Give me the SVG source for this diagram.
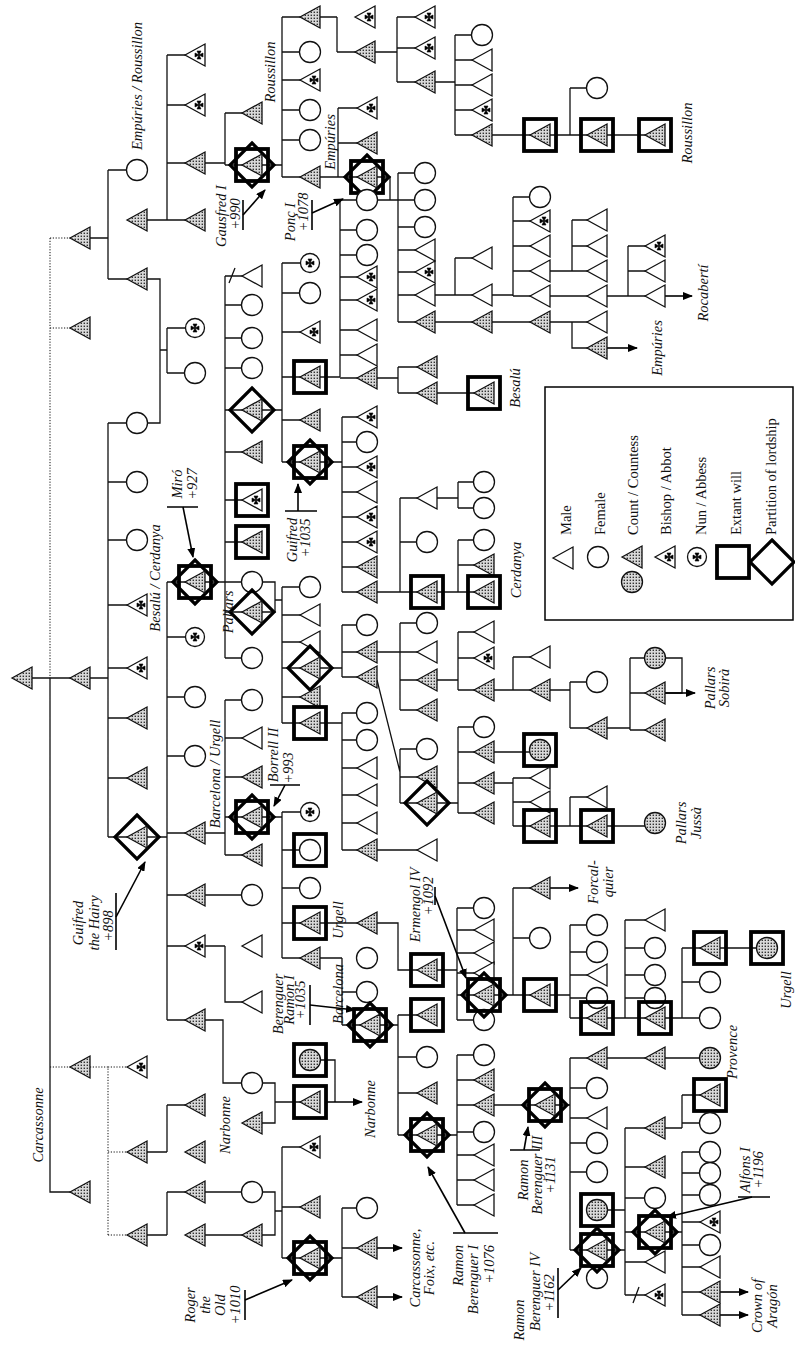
<svg xmlns="http://www.w3.org/2000/svg" xmlns:xlink="http://www.w3.org/1999/xlink" width="795" height="1345" viewBox="0 0 795 1345">
<style>
.ln{fill:none;stroke:#111;stroke-width:1.3}
.dt{fill:none;stroke:#111;stroke-width:1;stroke-dasharray:1.2 1.6}
.pt{fill:none;stroke:#000;stroke-width:1.6}
.ar{fill:none;stroke:#000;stroke-width:1.6;marker-end:url(#ah)}
.t{font-family:"Liberation Serif","Times New Roman",serif;font-style:italic;font-size:14.5px;fill:#111}
.lg{font-family:"Liberation Serif","Times New Roman",serif;font-size:14.5px;fill:#111}
</style>
<defs>
<marker id="ah" markerWidth="10" markerHeight="8" refX="9" refY="4" orient="auto" markerUnits="userSpaceOnUse"><path d="M0,0L10,4L0,8Z" fill="#000"/></marker>
<pattern id="st" width="3" height="3" patternUnits="userSpaceOnUse"><rect width="3" height="3" fill="#d8d8d8"/><rect x="0.6" y="0.6" width="1.4" height="1.4" fill="#333"/></pattern>
<path id="cr" d="M0,0L-2,-4H2ZM0,0L-2,4H2ZM0,0L-4,-2V2ZM0,0L4,-2V2Z" fill="#000" stroke="#000" stroke-width="0.6"/>
<polygon id="M" points="-10,0 10,-11 10,11" fill="#fff" stroke="#111" stroke-width="1.3"/>
<polygon id="C" points="-10,0 10,-11 10,11" fill="url(#st)" stroke="#111" stroke-width="1.3"/>
<g id="B"><use href="#M"/><use href="#cr" x="4"/></g>
<circle id="F" r="10.5" fill="#fff" stroke="#111" stroke-width="1.3"/>
<circle id="CS" r="10.5" fill="url(#st)" stroke="#111" stroke-width="1.3"/>
<g id="N"><circle r="9.5" fill="#fff" stroke="#111" stroke-width="1.3"/><use href="#cr"/></g>
<rect id="bx" x="-16" y="-16" width="32" height="32" fill="none" stroke="#000" stroke-width="3.8"/>
<polygon id="dm" points="0,-22 22,0 0,22 -22,0" fill="none" stroke="#000" stroke-width="3.2"/>
<g id="XC"><use href="#bx"/><use href="#C"/></g>
<g id="XB"><use href="#bx"/><use href="#B"/></g>
<g id="XF"><use href="#bx"/><use href="#F"/></g>
<g id="XCS"><use href="#bx"/><use href="#CS"/></g>
<g id="DC"><use href="#dm"/><use href="#C"/></g>
<g id="SC"><use href="#bx"/><use href="#dm"/><use href="#C"/></g>
</defs>
<rect width="795" height="1345" fill="#fff"/>
<g id="connectors">
<path class="dt" d="M50,238V678M50,238H80M50,328H80M50,1067H80M90,1067H108V1235M108,1067H137M108,1152H137M108,1235H137"/>
<path class="ln" d="M22,678H80M50,678V1192H80
M80,238H108M108,170V279M108,170H137M108,279H137
M137,220H195M167,55V220M167,55H195M167,105H195M167,163H195
M195,163H225M225,113V165M225,113H252M225,165H252
M252,165H282M282,17V177M282,17H310M282,52H310M282,80H310M282,110H310M282,140H310M282,177H310
M310,17H337M337,17V52M337,52H365
M365,52H397M397,17V82M397,17H425M397,48H425M397,82H425
M425,82H455M455,35V135M455,35H482M455,60H482M455,85H482M455,110H482M455,135H482
M482,135H540M540,135H570M570,88V135M570,88H597M570,135H655
M310,177H338M338,108V177M338,108H367M338,143H367M338,177H367
M367,177H390V200H367M390,200H398M398,173V322M398,173H425M398,200H425M398,227H425M398,250H425M398,272H425M398,295H425M398,322H425
M425,295H455M455,258V295M455,258H482M455,295H482
M482,295H513M513,197V296M513,197H540M513,221H540M513,246H540M513,271H540M513,296H540
M540,271H572M572,220V271M572,220H597M572,246H597M572,271H597
M540,296H628M628,246V296M628,246H655M628,271H655M628,296H655
M425,322H572M572,322V348H597M572,322H597
M80,678H108M108,423V837M108,423H137M108,482H137M108,540H137M108,605H137M108,668H137M108,718H137M108,778H137M108,837H137
M137,279H160V423H137M160,350H167M167,328V373M167,328H195M167,373H195
M137,837H167M167,582V1020M167,582H195M167,637H195M167,697H195M167,756H195M167,833H195M167,895H195M167,946H195M167,1020H195
M195,582H225M225,276V658M225,276H252M225,305H252M225,338H252M225,368H252M225,410H252M225,452H252M225,500H252M225,542H252M225,582H252M225,612H252M225,658H252
M229,283L235,268
M252,410H282M282,263V462M282,263H310M282,293H310M282,332H310M282,377H310M282,420H310M282,462H310
M310,377H340M340,200V377M340,200H367M340,230H367M340,255H367M340,277H367M340,300H367M340,330H367M340,355H367M340,378H367
M367,378H398M398,367V393M398,367H427M398,393H484
M310,462H342M342,417V592M342,417H367M342,442H367M342,467H367M342,492H367M342,517H367M342,542H367M342,567H367M342,592H367
M367,592H400M400,498V592M400,498H427M400,542H427M400,592H427
M427,498H458M458,482V508M458,482H484M458,508H484
M427,592H458M458,540V592M458,540H484M458,565H484M458,592H484
M252,582H275V612H252M275,600H282M282,587V723M282,587H310M282,615H310M282,642H310M282,668H310M282,697H310M282,723H310
M310,668H342M342,625V677M342,625H367M342,652H367M342,677H367
M367,652H400M400,623V710M400,623H427M400,652H427M400,680H427M400,710H427
M427,680H458M458,632V690M458,632H484M458,658H484M458,690H484
M484,690H513M513,657V690M513,657H540M513,690H540
M540,690H570M570,682V728M570,682H597M570,728H597
M597,728H630M630,658V730M630,658H655M630,693H655M630,730H655
M665,658H682V693H665
M377,680L400,772M400,749V803M400,749H427M400,777H427M400,803H427
M427,803H458M458,727V813M458,727H484M458,752H484M458,783H484M458,813H484
M484,752H540
M484,783H513M513,778V826M513,778H540M513,802H540M513,826H540
M540,826H570M570,797V826M570,797H597M570,826H655
M310,723H342M342,713V850M342,713H367M342,740H367M342,768H367M342,795H367M342,823H367M342,850H427
M195,833H225M225,700V855M225,700H252M225,738H252M225,777H252M225,817H252M225,855H252
M252,817H282M282,812V958M282,812H310M282,850H310M282,888H310M282,923H310M282,958H310
M310,923H398V970H427
M427,970H457M457,908V1020M457,908H484M457,930H484M457,953H484M457,973H484M457,995H484M457,1020H484
M484,995H513M513,888V995M513,888H540M513,938H540M513,995H540
M540,995H570M570,925V1018M570,925H597M570,952H597M570,975H597M570,998H597M570,1018H597
M597,1018H625M625,920V1018M625,920H655M625,948H655M625,975H655M625,998H655M625,1018H655
M655,1018H682M682,948V1018M682,948H767M682,982H710M682,1018H710
M310,958H342M342,958V1025M342,992H367M342,1025H370
M370,1025H398M398,1015V1135M398,1015H427M398,1057H427M398,1093H427M398,1135H427
M427,1135H457M457,1055V1205M457,1055H484M457,1080H484M457,1105H545M457,1132H484M457,1155H484M457,1180H484M457,1205H484
M545,1105H570M570,1058V1250M570,1058H710M570,1088H597M570,1118H597M570,1143H597M570,1172H597M570,1250H597
M597,1210H625M597,1250H625M625,1128V1295M625,1128H655M625,1167H655M625,1198H655M625,1232H655M625,1262H655M625,1295H655
M633,1303L639,1287
M655,1128H682M682,1095V1128M682,1095H710M682,1123H710
M655,1232H682M682,1152V1315M682,1152H710M682,1173H710M682,1195H710M682,1222H710M682,1245H710M682,1267H710M682,1292H710M682,1315H710
M195,895H252
M195,946H225M225,946V1002H252
M195,1020H223V1083H252
M252,1083H275V1123H252M275,1102H310
M310,1060H335V1102
M137,1152H167M167,1105V1152M167,1105H195
M137,1235H167M167,1192V1235M167,1192H195
M195,1192H252M195,1235H252
M252,1192H275V1235H252M275,1211H282M282,1147V1258M282,1147H310M282,1207H310M282,1258H310
M310,1258H342M342,1208V1297M342,1208H367M342,1248H367M342,1297H367"/>
<path class="ar" d="M665,296H692"/>
<path class="ar" d="M607,348H637"/>
<path class="ar" d="M665,693H695"/>
<path class="ar" d="M550,888H578"/>
<path class="ar" d="M720,1292H748"/>
<path class="ar" d="M720,1315H748"/>
<path class="ar" d="M326,1102H362"/>
<path class="ar" d="M377,1248H402"/>
<path class="ar" d="M377,1297H402"/>
<path class="pt" d="M243,200V230M312,200V230M167,507H198M116,893V950M270,785H300M285,511H317M435,887V905M245,1290V1320M453,1233H498M310,985V1025M510,1150H540M558,1268V1318M738,1197H770"/>
<path class="ar" d="M243,215L265,190"/>
<path class="ar" d="M312,213L343,199"/>
<path class="ar" d="M183,507L193,557"/>
<path class="ar" d="M116,917L145,862"/>
<path class="ar" d="M285,785L274,806"/>
<path class="ar" d="M298,511V484"/>
<path class="ar" d="M435,896L466,978"/>
<path class="ar" d="M245,1300L292,1280"/>
<path class="ar" d="M465,1233L428,1167"/>
<path class="ar" d="M310,1005L355,1010"/>
<path class="ar" d="M524,1150L528,1127"/>
<path class="ar" d="M558,1290L581,1268"/>
<path class="ar" d="M752,1197L667,1217"/>
</g>
<g id="nodes">
<g id="n1"><use href="#C" x="22" y="678"/></g>
<g id="n2"><use href="#C" x="80" y="238"/></g>
<g id="n3"><use href="#C" x="80" y="328"/></g>
<g id="n4"><use href="#C" x="80" y="678"/></g>
<g id="n5"><use href="#C" x="80" y="1067"/></g>
<g id="n6"><use href="#C" x="80" y="1192"/></g>
<g id="n7"><use href="#F" x="137" y="170"/></g>
<g id="n8"><use href="#C" x="137" y="220"/></g>
<g id="n9"><use href="#C" x="137" y="279"/></g>
<g id="n10"><use href="#B" x="195" y="55"/></g>
<g id="n11"><use href="#B" x="195" y="105"/></g>
<g id="n12"><use href="#C" x="195" y="163"/></g>
<g id="n13"><use href="#C" x="195" y="220"/></g>
<g id="n14"><use href="#C" x="252" y="113"/></g>
<g id="n15"><use href="#SC" x="252" y="165"/></g>
<g id="n16"><use href="#C" x="310" y="17"/></g>
<g id="n17"><use href="#F" x="310" y="52"/></g>
<g id="n18"><use href="#B" x="310" y="80"/></g>
<g id="n19"><use href="#F" x="310" y="110"/></g>
<g id="n20"><use href="#F" x="310" y="140"/></g>
<g id="n21"><use href="#C" x="310" y="177"/></g>
<g id="n22"><use href="#B" x="365" y="17"/></g>
<g id="n23"><use href="#C" x="365" y="52"/></g>
<g id="n24"><use href="#B" x="425" y="17"/></g>
<g id="n25"><use href="#B" x="425" y="48"/></g>
<g id="n26"><use href="#C" x="425" y="82"/></g>
<g id="n27"><use href="#F" x="482" y="35"/></g>
<g id="n28"><use href="#M" x="482" y="60"/></g>
<g id="n29"><use href="#M" x="482" y="85"/></g>
<g id="n30"><use href="#B" x="482" y="110"/></g>
<g id="n31"><use href="#C" x="482" y="135"/></g>
<g id="n32"><use href="#XC" x="540" y="135"/></g>
<g id="n33"><use href="#F" x="597" y="88"/></g>
<g id="n34"><use href="#XC" x="597" y="135"/></g>
<g id="n35"><use href="#XC" x="655" y="135"/></g>
<g id="n36"><use href="#B" x="367" y="108"/></g>
<g id="n37"><use href="#C" x="367" y="143"/></g>
<g id="n38"><use href="#SC" x="367" y="177"/></g>
<g id="n39"><use href="#F" x="367" y="200"/></g>
<g id="n40"><use href="#F" x="425" y="173"/></g>
<g id="n41"><use href="#F" x="425" y="200"/></g>
<g id="n42"><use href="#F" x="425" y="227"/></g>
<g id="n43"><use href="#M" x="425" y="250"/></g>
<g id="n44"><use href="#B" x="425" y="272"/></g>
<g id="n45"><use href="#M" x="425" y="295"/></g>
<g id="n46"><use href="#C" x="425" y="322"/></g>
<g id="n47"><use href="#M" x="482" y="258"/></g>
<g id="n48"><use href="#M" x="482" y="295"/></g>
<g id="n49"><use href="#F" x="540" y="197"/></g>
<g id="n50"><use href="#B" x="540" y="221"/></g>
<g id="n51"><use href="#M" x="540" y="246"/></g>
<g id="n52"><use href="#M" x="540" y="271"/></g>
<g id="n53"><use href="#M" x="540" y="296"/></g>
<g id="n54"><use href="#M" x="597" y="220"/></g>
<g id="n55"><use href="#M" x="597" y="246"/></g>
<g id="n56"><use href="#M" x="597" y="271"/></g>
<g id="n57"><use href="#M" x="597" y="296"/></g>
<g id="n58"><use href="#B" x="655" y="246"/></g>
<g id="n59"><use href="#M" x="655" y="271"/></g>
<g id="n60"><use href="#M" x="655" y="296"/></g>
<g id="n61"><use href="#C" x="482" y="322"/></g>
<g id="n62"><use href="#C" x="540" y="322"/></g>
<g id="n63"><use href="#M" x="597" y="322"/></g>
<g id="n64"><use href="#C" x="597" y="348"/></g>
<g id="n65"><use href="#F" x="137" y="423"/></g>
<g id="n66"><use href="#F" x="137" y="482"/></g>
<g id="n67"><use href="#F" x="137" y="540"/></g>
<g id="n68"><use href="#B" x="137" y="605"/></g>
<g id="n69"><use href="#B" x="137" y="668"/></g>
<g id="n70"><use href="#C" x="137" y="718"/></g>
<g id="n71"><use href="#C" x="137" y="778"/></g>
<g id="n72"><use href="#DC" x="137" y="837"/></g>
<g id="n73"><use href="#N" x="195" y="328"/></g>
<g id="n74"><use href="#F" x="195" y="373"/></g>
<g id="n75"><use href="#SC" x="195" y="582"/></g>
<g id="n76"><use href="#N" x="195" y="637"/></g>
<g id="n77"><use href="#F" x="195" y="697"/></g>
<g id="n78"><use href="#F" x="195" y="756"/></g>
<g id="n79"><use href="#C" x="195" y="833"/></g>
<g id="n80"><use href="#C" x="195" y="895"/></g>
<g id="n81"><use href="#B" x="195" y="946"/></g>
<g id="n82"><use href="#C" x="195" y="1020"/></g>
<g id="n83"><use href="#M" x="252" y="276"/></g>
<g id="n84"><use href="#F" x="252" y="305"/></g>
<g id="n85"><use href="#F" x="252" y="338"/></g>
<g id="n86"><use href="#F" x="252" y="368"/></g>
<g id="n87"><use href="#DC" x="252" y="410"/></g>
<g id="n88"><use href="#C" x="252" y="452"/></g>
<g id="n89"><use href="#XB" x="252" y="500"/></g>
<g id="n90"><use href="#XC" x="252" y="542"/></g>
<g id="n91"><use href="#F" x="252" y="582"/></g>
<g id="n92"><use href="#DC" x="252" y="612"/></g>
<g id="n93"><use href="#F" x="252" y="658"/></g>
<g id="n94"><use href="#N" x="310" y="263"/></g>
<g id="n95"><use href="#F" x="310" y="293"/></g>
<g id="n96"><use href="#B" x="310" y="332"/></g>
<g id="n97"><use href="#XC" x="310" y="377"/></g>
<g id="n98"><use href="#C" x="310" y="420"/></g>
<g id="n99"><use href="#SC" x="310" y="462"/></g>
<g id="n100"><use href="#F" x="367" y="230"/></g>
<g id="n101"><use href="#F" x="367" y="255"/></g>
<g id="n102"><use href="#B" x="367" y="277"/></g>
<g id="n103"><use href="#B" x="367" y="300"/></g>
<g id="n104"><use href="#M" x="367" y="330"/></g>
<g id="n105"><use href="#M" x="367" y="355"/></g>
<g id="n106"><use href="#C" x="367" y="378"/></g>
<g id="n107"><use href="#C" x="427" y="367"/></g>
<g id="n108"><use href="#C" x="427" y="393"/></g>
<g id="n109"><use href="#XC" x="484" y="393"/></g>
<g id="n110"><use href="#B" x="367" y="417"/></g>
<g id="n111"><use href="#F" x="367" y="442"/></g>
<g id="n112"><use href="#B" x="367" y="467"/></g>
<g id="n113"><use href="#M" x="367" y="492"/></g>
<g id="n114"><use href="#B" x="367" y="517"/></g>
<g id="n115"><use href="#B" x="367" y="542"/></g>
<g id="n116"><use href="#C" x="367" y="567"/></g>
<g id="n117"><use href="#C" x="367" y="592"/></g>
<g id="n118"><use href="#M" x="427" y="498"/></g>
<g id="n119"><use href="#F" x="427" y="542"/></g>
<g id="n120"><use href="#XC" x="427" y="592"/></g>
<g id="n121"><use href="#F" x="484" y="482"/></g>
<g id="n122"><use href="#F" x="484" y="508"/></g>
<g id="n123"><use href="#F" x="484" y="540"/></g>
<g id="n124"><use href="#C" x="484" y="565"/></g>
<g id="n125"><use href="#XC" x="484" y="592"/></g>
<g id="n126"><use href="#F" x="310" y="587"/></g>
<g id="n127"><use href="#M" x="310" y="615"/></g>
<g id="n128"><use href="#M" x="310" y="642"/></g>
<g id="n129"><use href="#DC" x="310" y="668"/></g>
<g id="n130"><use href="#C" x="310" y="697"/></g>
<g id="n131"><use href="#XC" x="310" y="723"/></g>
<g id="n132"><use href="#F" x="367" y="625"/></g>
<g id="n133"><use href="#C" x="367" y="652"/></g>
<g id="n134"><use href="#C" x="367" y="677"/></g>
<g id="n135"><use href="#F" x="427" y="623"/></g>
<g id="n136"><use href="#M" x="427" y="652"/></g>
<g id="n137"><use href="#C" x="427" y="680"/></g>
<g id="n138"><use href="#C" x="427" y="710"/></g>
<g id="n139"><use href="#M" x="484" y="632"/></g>
<g id="n140"><use href="#B" x="484" y="658"/></g>
<g id="n141"><use href="#C" x="484" y="690"/></g>
<g id="n142"><use href="#M" x="540" y="657"/></g>
<g id="n143"><use href="#C" x="540" y="690"/></g>
<g id="n144"><use href="#F" x="597" y="682"/></g>
<g id="n145"><use href="#C" x="597" y="728"/></g>
<g id="n146"><use href="#CS" x="655" y="658"/></g>
<g id="n147"><use href="#C" x="655" y="693"/></g>
<g id="n148"><use href="#C" x="655" y="730"/></g>
<g id="n149"><use href="#F" x="427" y="749"/></g>
<g id="n150"><use href="#C" x="427" y="777"/></g>
<g id="n151"><use href="#DC" x="427" y="803"/></g>
<g id="n152"><use href="#F" x="484" y="727"/></g>
<g id="n153"><use href="#C" x="484" y="752"/></g>
<g id="n154"><use href="#C" x="484" y="783"/></g>
<g id="n155"><use href="#C" x="484" y="813"/></g>
<g id="n156"><use href="#XCS" x="540" y="750"/></g>
<g id="n157"><use href="#M" x="540" y="778"/></g>
<g id="n158"><use href="#M" x="540" y="802"/></g>
<g id="n159"><use href="#XC" x="540" y="826"/></g>
<g id="n160"><use href="#M" x="597" y="797"/></g>
<g id="n161"><use href="#XC" x="597" y="826"/></g>
<g id="n162"><use href="#CS" x="655" y="823"/></g>
<g id="n163"><use href="#F" x="367" y="713"/></g>
<g id="n164"><use href="#F" x="367" y="740"/></g>
<g id="n165"><use href="#M" x="367" y="768"/></g>
<g id="n166"><use href="#M" x="367" y="795"/></g>
<g id="n167"><use href="#M" x="367" y="823"/></g>
<g id="n168"><use href="#C" x="367" y="850"/></g>
<g id="n169"><use href="#M" x="427" y="850"/></g>
<g id="n170"><use href="#F" x="252" y="700"/></g>
<g id="n171"><use href="#M" x="252" y="738"/></g>
<g id="n172"><use href="#C" x="252" y="777"/></g>
<g id="n173"><use href="#SC" x="252" y="817"/></g>
<g id="n174"><use href="#C" x="252" y="855"/></g>
<g id="n175"><use href="#N" x="310" y="812"/></g>
<g id="n176"><use href="#XF" x="310" y="850"/></g>
<g id="n177"><use href="#F" x="310" y="888"/></g>
<g id="n178"><use href="#XC" x="310" y="923"/></g>
<g id="n179"><use href="#C" x="310" y="958"/></g>
<g id="n180"><use href="#C" x="367" y="923"/></g>
<g id="n181"><use href="#XC" x="427" y="970"/></g>
<g id="n182"><use href="#F" x="484" y="908"/></g>
<g id="n183"><use href="#M" x="484" y="930"/></g>
<g id="n184"><use href="#M" x="484" y="953"/></g>
<g id="n185"><use href="#M" x="484" y="973"/></g>
<g id="n186"><use href="#F" x="484" y="1020"/></g>
<g id="n187"><use href="#SC" x="484" y="995"/></g>
<g id="n188"><use href="#C" x="540" y="888"/></g>
<g id="n189"><use href="#F" x="540" y="938"/></g>
<g id="n190"><use href="#XC" x="540" y="995"/></g>
<g id="n191"><use href="#F" x="597" y="925"/></g>
<g id="n192"><use href="#F" x="597" y="952"/></g>
<g id="n193"><use href="#M" x="597" y="975"/></g>
<g id="n194"><use href="#F" x="597" y="998"/></g>
<g id="n195"><use href="#XC" x="597" y="1018"/></g>
<g id="n196"><use href="#M" x="655" y="920"/></g>
<g id="n197"><use href="#F" x="655" y="948"/></g>
<g id="n198"><use href="#F" x="655" y="975"/></g>
<g id="n199"><use href="#F" x="655" y="998"/></g>
<g id="n200"><use href="#XC" x="655" y="1018"/></g>
<g id="n201"><use href="#XC" x="710" y="948"/></g>
<g id="n202"><use href="#XCS" x="767" y="948"/></g>
<g id="n203"><use href="#F" x="710" y="982"/></g>
<g id="n204"><use href="#F" x="710" y="1018"/></g>
<g id="n205"><use href="#F" x="367" y="958"/></g>
<g id="n206"><use href="#F" x="367" y="992"/></g>
<g id="n207"><use href="#SC" x="370" y="1025"/></g>
<g id="n208"><use href="#XC" x="427" y="1015"/></g>
<g id="n209"><use href="#F" x="427" y="1057"/></g>
<g id="n210"><use href="#C" x="427" y="1093"/></g>
<g id="n211"><use href="#SC" x="427" y="1135"/></g>
<g id="n212"><use href="#F" x="484" y="1055"/></g>
<g id="n213"><use href="#C" x="484" y="1080"/></g>
<g id="n214"><use href="#C" x="484" y="1105"/></g>
<g id="n215"><use href="#F" x="484" y="1132"/></g>
<g id="n216"><use href="#M" x="484" y="1155"/></g>
<g id="n217"><use href="#M" x="484" y="1180"/></g>
<g id="n218"><use href="#M" x="484" y="1205"/></g>
<g id="n219"><use href="#SC" x="545" y="1105"/></g>
<g id="n220"><use href="#C" x="597" y="1058"/></g>
<g id="n221"><use href="#F" x="597" y="1088"/></g>
<g id="n222"><use href="#M" x="597" y="1118"/></g>
<g id="n223"><use href="#F" x="597" y="1143"/></g>
<g id="n224"><use href="#F" x="597" y="1172"/></g>
<g id="n225"><use href="#XCS" x="597" y="1210"/></g>
<g id="n226"><use href="#F" x="597" y="1278"/></g>
<g id="n227"><use href="#SC" x="597" y="1250"/></g>
<g id="n228"><use href="#C" x="655" y="1058"/></g>
<g id="n229"><use href="#CS" x="710" y="1058"/></g>
<g id="n230"><use href="#C" x="655" y="1128"/></g>
<g id="n231"><use href="#C" x="655" y="1167"/></g>
<g id="n232"><use href="#F" x="655" y="1198"/></g>
<g id="n233"><use href="#SC" x="655" y="1232"/></g>
<g id="n234"><use href="#M" x="655" y="1262"/></g>
<g id="n235"><use href="#B" x="655" y="1295"/></g>
<g id="n236"><use href="#XC" x="710" y="1095"/></g>
<g id="n237"><use href="#F" x="710" y="1123"/></g>
<g id="n238"><use href="#F" x="710" y="1152"/></g>
<g id="n239"><use href="#F" x="710" y="1173"/></g>
<g id="n240"><use href="#F" x="710" y="1195"/></g>
<g id="n241"><use href="#B" x="710" y="1222"/></g>
<g id="n242"><use href="#F" x="710" y="1245"/></g>
<g id="n243"><use href="#M" x="710" y="1267"/></g>
<g id="n244"><use href="#C" x="710" y="1292"/></g>
<g id="n245"><use href="#C" x="710" y="1315"/></g>
<g id="n246"><use href="#F" x="252" y="895"/></g>
<g id="n247"><use href="#M" x="252" y="946"/></g>
<g id="n248"><use href="#M" x="252" y="1002"/></g>
<g id="n249"><use href="#F" x="252" y="1083"/></g>
<g id="n250"><use href="#C" x="252" y="1123"/></g>
<g id="n251"><use href="#XCS" x="310" y="1060"/></g>
<g id="n252"><use href="#XC" x="310" y="1102"/></g>
<g id="n253"><use href="#B" x="137" y="1067"/></g>
<g id="n254"><use href="#C" x="137" y="1152"/></g>
<g id="n255"><use href="#C" x="137" y="1235"/></g>
<g id="n256"><use href="#C" x="195" y="1105"/></g>
<g id="n257"><use href="#C" x="195" y="1152"/></g>
<g id="n258"><use href="#C" x="195" y="1192"/></g>
<g id="n259"><use href="#C" x="195" y="1235"/></g>
<g id="n260"><use href="#F" x="252" y="1192"/></g>
<g id="n261"><use href="#C" x="252" y="1235"/></g>
<g id="n262"><use href="#B" x="310" y="1147"/></g>
<g id="n263"><use href="#C" x="310" y="1207"/></g>
<g id="n264"><use href="#SC" x="310" y="1258"/></g>
<g id="n265"><use href="#F" x="367" y="1208"/></g>
<g id="n266"><use href="#C" x="367" y="1248"/></g>
<g id="n267"><use href="#C" x="367" y="1297"/></g>
</g>
<g id="labels">
<text class="t" text-anchor="middle" transform="translate(142,86) rotate(-90)">Empúries / Roussillon</text>
<text class="t" text-anchor="middle" transform="translate(275,72) rotate(-90)">Roussillon</text>
<text class="t" text-anchor="middle" transform="translate(335,142) rotate(-90)">Empúries</text>
<text class="t" text-anchor="middle" transform="translate(226,216) rotate(-90)">Gausfred I</text>
<text class="t" text-anchor="middle" transform="translate(240,214) rotate(-90)">+990</text>
<text class="t" text-anchor="middle" transform="translate(295,222) rotate(-90)">Ponç I</text>
<text class="t" text-anchor="middle" transform="translate(308,212) rotate(-90)">+1078</text>
<text class="t" text-anchor="middle" transform="translate(692,133) rotate(-90)">Roussillon</text>
<text class="t" text-anchor="middle" transform="translate(708,293) rotate(-90)">Rocabertí</text>
<text class="t" text-anchor="middle" transform="translate(662,348) rotate(-90)">Empúries</text>
<text class="t" text-anchor="middle" transform="translate(160,578) rotate(-90)">Besalú / Cerdanya</text>
<text class="t" text-anchor="middle" transform="translate(182,484) rotate(-90)">Miró</text>
<text class="t" text-anchor="middle" transform="translate(197,484) rotate(-90)">+927</text>
<text class="t" text-anchor="middle" transform="translate(233,612) rotate(-90)">Pallars</text>
<text class="t" text-anchor="middle" transform="translate(220,774) rotate(-90)">Barcelona / Urgell</text>
<text class="t" text-anchor="middle" transform="translate(83,923) rotate(-90)">Guifred</text>
<text class="t" text-anchor="middle" transform="translate(99,923) rotate(-90)">the Hairy</text>
<text class="t" text-anchor="middle" transform="translate(113,926) rotate(-90)">+898</text>
<text class="t" text-anchor="middle" transform="translate(278,755) rotate(-90)">Borrell II</text>
<text class="t" text-anchor="middle" transform="translate(293,768) rotate(-90)">+993</text>
<text class="t" text-anchor="middle" transform="translate(297,540) rotate(-90)">Guifred</text>
<text class="t" text-anchor="middle" transform="translate(310,538) rotate(-90)">+1035</text>
<text class="t" text-anchor="middle" transform="translate(520,388) rotate(-90)">Besalú</text>
<text class="t" text-anchor="middle" transform="translate(521,570) rotate(-90)">Cerdanya</text>
<text class="t" text-anchor="middle" transform="translate(715,688) rotate(-90)">Pallars</text>
<text class="t" text-anchor="middle" transform="translate(729,688) rotate(-90)">Sobirà</text>
<text class="t" text-anchor="middle" transform="translate(686,823) rotate(-90)">Pallars</text>
<text class="t" text-anchor="middle" transform="translate(701,823) rotate(-90)">Jussà</text>
<text class="t" text-anchor="middle" transform="translate(343,920) rotate(-90)">Urgell</text>
<text class="t" text-anchor="middle" transform="translate(420,905) rotate(-90)">Ermengol IV</text>
<text class="t" text-anchor="middle" transform="translate(433,896) rotate(-90)">+1092</text>
<text class="t" text-anchor="middle" transform="translate(598,882) rotate(-90)">Forcal-</text>
<text class="t" text-anchor="middle" transform="translate(613,882) rotate(-90)">quier</text>
<text class="t" text-anchor="middle" transform="translate(791,990) rotate(-90)">Urgell</text>
<text class="t" text-anchor="middle" transform="translate(283,1004) rotate(-90)">Berenguer</text>
<text class="t" text-anchor="middle" transform="translate(294,1000) rotate(-90)">Ramon I</text>
<text class="t" text-anchor="middle" transform="translate(305,1000) rotate(-90)">+1035</text>
<text class="t" text-anchor="middle" transform="translate(343,994) rotate(-90)">Barcelona</text>
<text class="t" text-anchor="middle" transform="translate(230,1125) rotate(-90)">Narbonne</text>
<text class="t" text-anchor="middle" transform="translate(375,1109) rotate(-90)">Narbonne</text>
<text class="t" text-anchor="middle" transform="translate(43,1125) rotate(-90)">Carcassonne</text>
<text class="t" text-anchor="middle" transform="translate(195,1305) rotate(-90)">Roger</text>
<text class="t" text-anchor="middle" transform="translate(210,1305) rotate(-90)">the</text>
<text class="t" text-anchor="middle" transform="translate(225,1305) rotate(-90)">Old</text>
<text class="t" text-anchor="middle" transform="translate(240,1305) rotate(-90)">+1010</text>
<text class="t" text-anchor="middle" transform="translate(420,1268) rotate(-90)">Carcassonne,</text>
<text class="t" text-anchor="middle" transform="translate(434,1268) rotate(-90)">Foix, etc.</text>
<text class="t" text-anchor="end" transform="translate(463,1245) rotate(-90)">Ramon</text>
<text class="t" text-anchor="end" transform="translate(478,1245) rotate(-90)">Berenguer I</text>
<text class="t" text-anchor="end" transform="translate(494,1245) rotate(-90)">+1076</text>
<text class="t" text-anchor="middle" transform="translate(737,1052) rotate(-90)">Provence</text>
<text class="t" text-anchor="middle" transform="translate(528,1180) rotate(-90)">Ramon</text>
<text class="t" text-anchor="middle" transform="translate(542,1175) rotate(-90)">Berenguer III</text>
<text class="t" text-anchor="middle" transform="translate(555,1175) rotate(-90)">+1131</text>
<text class="t" text-anchor="middle" transform="translate(524,1320) rotate(-90)">Ramon</text>
<text class="t" text-anchor="middle" transform="translate(540,1292) rotate(-90)">Berenguer IV</text>
<text class="t" text-anchor="middle" transform="translate(554,1293) rotate(-90)">+1162</text>
<text class="t" text-anchor="middle" transform="translate(750,1170) rotate(-90)">Alfons I</text>
<text class="t" text-anchor="middle" transform="translate(763,1170) rotate(-90)">+1196</text>
<text class="t" text-anchor="middle" transform="translate(762,1306) rotate(-90)">Crown of</text>
<text class="t" text-anchor="middle" transform="translate(777,1306) rotate(-90)">Aragón</text>
</g>
<g id="legend">
<rect x="545" y="387" width="248" height="233" fill="none" stroke="#000" stroke-width="1.5"/>
<use href="#M" x="563" y="558"/>
<use href="#F" x="598" y="557"/>
<use href="#C" x="632" y="557"/>
<use href="#CS" x="632" y="582"/>
<use href="#B" x="665" y="557"/>
<use href="#N" x="697" y="557"/>
<use href="#bx" x="733" y="562"/>
<use href="#dm" x="772" y="562"/>
<text class="lg" transform="translate(571,535) rotate(-90)">Male</text>
<text class="lg" transform="translate(605,535) rotate(-90)">Female</text>
<text class="lg" transform="translate(638,535) rotate(-90)">Count / Countess</text>
<text class="lg" transform="translate(671,535) rotate(-90)">Bishop / Abbot</text>
<text class="lg" transform="translate(706,535) rotate(-90)">Nun / Abbess</text>
<text class="lg" transform="translate(741,535) rotate(-90)">Extant will</text>
<text class="lg" transform="translate(776,535) rotate(-90)">Partition of lordship</text>
</g>
</svg>
